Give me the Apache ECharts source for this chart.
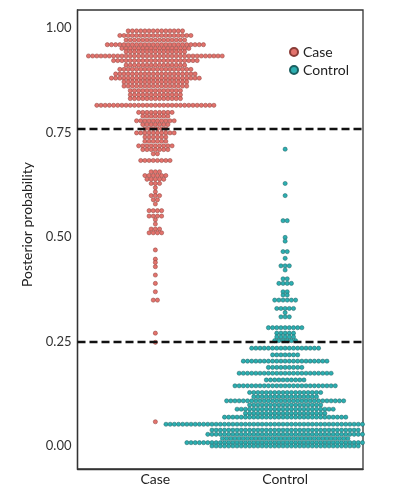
<!DOCTYPE html>
<html><head><meta charset="utf-8">
<script src="https://cdn.jsdelivr.net/npm/echarts@6/dist/echarts.min.js"></script>
<style>html,body{margin:0;padding:0;background:#fff}#c{width:398px;height:501px}</style>
</head><body><div id="c"></div>
<script>
const categories = ['Case', 'Control'];
const yTicks = [0, 0.25, 0.5, 0.75, 1];
const cutoffs = [0.755, 0.252];
const binwidth = 0.01;

// Posterior probability level of each dot row, and the number of dots in that row
const caseLevels = [0.993,0.982,0.971,0.960,0.951,0.943,0.933,0.922,0.911,0.901,0.890,0.880,0.871,0.861,0.850,0.840,0.831,0.815,0.798,0.789,0.778,0.769,0.759,0.749,0.739,0.729,0.718,0.709,0.699,0.683,0.656,0.647,0.638,0.628,0.618,0.608,0.599,0.589,0.579,0.563,0.550,0.541,0.531,0.519,0.510,0.469,0.447,0.439,0.429,0.409,0.389,0.369,0.349,0.270,0.248,0.058];
const caseCounts = [14,18,15,24,17,15,33,21,15,18,20,22,16,16,13,13,13,29,9,7,10,7,6,10,6,6,9,7,2,8,3,6,5,3,1,1,3,2,1,4,4,1,1,3,4,1,1,1,1,1,1,1,2,1,1,1];

const controlLevels = [0.710,0.628,0.599,0.539,0.499,0.490,0.465,0.449,0.431,0.421,0.400,0.389,0.369,0.361,0.349,0.329,0.319,0.309,0.283,0.270,0.261,0.252,0.234,0.218,0.203,0.188,0.174,0.158,0.144,0.128,0.118,0.108,0.098,0.088,0.078,0.069,0.052,0.038,0.028,0.018,0.008,0.000];
const controlCounts = [1,1,1,2,1,1,2,1,3,1,2,4,2,2,6,5,1,3,9,5,5,6,17,7,21,9,23,10,25,18,16,29,18,24,20,30,58,36,38,31,48,36];

const W = 398, H = 501;
const G = {left: 77.5, top: 10, right: 35, bottom: 32};
const xMin = -0.6, xMax = 1.6, yMin = -0.055, yMax = 1.043;
const gw = W - G.left - G.right, gh = H - G.top - G.bottom;
const pxPerY = gh / (yMax - yMin), pxPerX = gw / (xMax - xMin);
const pitchX = binwidth * pxPerY / pxPerX;
const dotSize = binwidth * pxPerY;

function swarm(levels, counts, center) {
  const pts = [];
  levels.forEach((v, i) => {
    const n = counts[i];
    for (let k = 0; k < n; k++) pts.push([center + (k - (n - 1) / 2) * pitchX, v]);
  });
  return pts;
}

const FONT = 'Lato';
const chart = echarts.init(document.getElementById('c'), null, {renderer: 'canvas'});
chart.setOption({
  backgroundColor: '#fff',
  animation: false,
  textStyle: {fontFamily: FONT},
  grid: {left: G.left, top: G.top, right: G.right, bottom: G.bottom, show: true, borderColor: '#333', borderWidth: 1.3, containLabel: false},
  legend: {
    data: categories, orient: 'vertical', left: 289, top: 45, itemWidth: 8, itemHeight: 8, itemGap: 4, padding: 0,
    icon: 'circle', textStyle: {fontSize: 14, color: '#222', fontFamily: FONT}
  },
  xAxis: {
    type: 'value', min: xMin, max: xMax,
    axisLine: {show: true, onZero: false, lineStyle: {color: '#333', width: 1.3}},
    axisTick: {show: false}, splitLine: {show: false},
    axisLabel: {customValues: [0, 1], formatter: v => categories[Math.round(v)], fontSize: 14, color: '#222', margin: 3, fontFamily: FONT}
  },
  yAxis: {
    type: 'value', min: yMin, max: yMax,
    name: 'Posterior probability', nameLocation: 'middle', nameGap: 33,
    nameTextStyle: {fontSize: 14, color: '#222', fontFamily: FONT, padding: [0, 0, 0, 30]},
    axisLine: {show: true, onZero: false, lineStyle: {color: '#333', width: 1.3}},
    axisTick: {show: false}, splitLine: {show: false},
    axisLabel: {customValues: yTicks, formatter: v => v.toFixed(2), fontSize: 13, color: '#333', margin: 6, fontFamily: FONT}
  },
  series: [
    {
      name: 'Case', type: 'scatter', symbol: 'circle', symbolSize: dotSize,
      data: swarm(caseLevels, caseCounts, 0),
      itemStyle: {color: '#E3736D', borderColor: '#8a3c37', borderWidth: 0.5, opacity: 1},
      markLine: {
        silent: true, symbol: 'none', label: {show: false},
        lineStyle: {type: [8, 4], width: 2.3, color: '#111'},
        data: cutoffs.map(c => ({yAxis: c}))
      },
      z: 2
    },
    {
      name: 'Control', type: 'scatter', symbol: 'circle', symbolSize: dotSize,
      data: swarm(controlLevels, controlCounts, 1),
      itemStyle: {color: '#2CAFB1', borderColor: '#1c5f60', borderWidth: 0.5, opacity: 1},
      z: 2
    }
  ]
});
</script></body></html>
